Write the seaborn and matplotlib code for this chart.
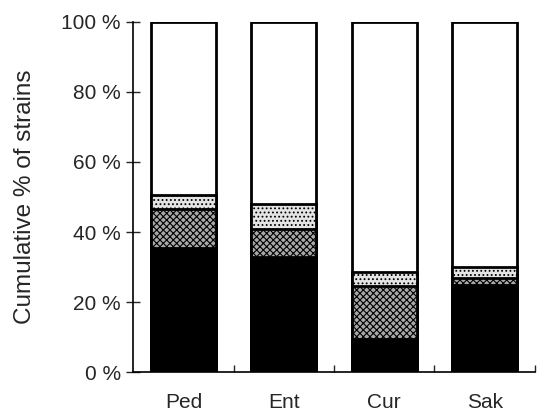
import numpy as np
import pandas as pd
import matplotlib
matplotlib.use('Agg')
import matplotlib.pyplot as plt
import seaborn as sns

# Data (percent of strains per segment)
groups = ['Ped', 'Ent', 'Cur', 'Sak']
black_seg = [35.5, 33.0, 9.5, 25.0]
dense_seg = [11.0, 8.0, 15.0, 2.0]
light_seg = [4.0, 7.0, 4.0, 3.0]
white_seg = [49.5, 52.0, 71.5, 70.0]

sns.set_style('ticks')
plt.rcParams['font.family'] = ['Liberation Sans', 'DejaVu Sans']
plt.rcParams['hatch.linewidth'] = 0.8

df = pd.DataFrame({'group': groups, 'black': black_seg, 'dense': dense_seg,
                   'light': light_seg, 'white': white_seg})
df['c1'] = df['black']
df['c2'] = df['c1'] + df['dense']
df['c3'] = df['c2'] + df['light']
df['c4'] = df['c3'] + df['white']

fig = plt.figure(figsize=(5.37, 4.13), dpi=100)
ax = fig.add_axes([0.248, 0.099, 0.748, 0.848])

# stacked bars: draw cumulative totals from the top down
layers = [('c4', 'white', None), ('c3', '#e4e4e4', '....'),
          ('c2', '#a8a8a8', 'xxxxx'), ('c1', 'black', None)]
for col, fc, hatch in layers:
    n_before = len(ax.patches)
    sns.barplot(data=df, x='group', y=col, color=fc, width=0.65, saturation=1,
                edgecolor='black', linewidth=2, ax=ax)
    if hatch:
        for p in ax.patches[n_before:]:
            p.set_hatch(hatch)

ax.set_xlim(-0.5, 3.5)
ax.set_ylim(0, 100)
ax.set_yticks(np.arange(0, 101, 20))
ax.set_yticklabels([f'{v} %' for v in range(0, 101, 20)])
ax.set_xticks([0, 1, 2, 3])
ax.set_xticks([0.5, 1.5, 2.5, 3.5], minor=True)
ax.tick_params(axis='x', which='major', length=0, labelsize=15, pad=15)
ax.tick_params(axis='x', which='minor', length=5, direction='in', width=1)
ax.tick_params(axis='y', direction='inout', length=10, width=1, labelsize=15, pad=4)
ax.set_xlabel('')
ax.set_ylabel('Cumulative % of strains', fontsize=17.5, labelpad=18)
for s in ['top', 'right']:
    ax.spines[s].set_visible(False)
for s in ['left', 'bottom']:
    ax.spines[s].set_linewidth(1.2)
    ax.spines[s].set_color('black')

fig.savefig('out.png', dpi=100)
